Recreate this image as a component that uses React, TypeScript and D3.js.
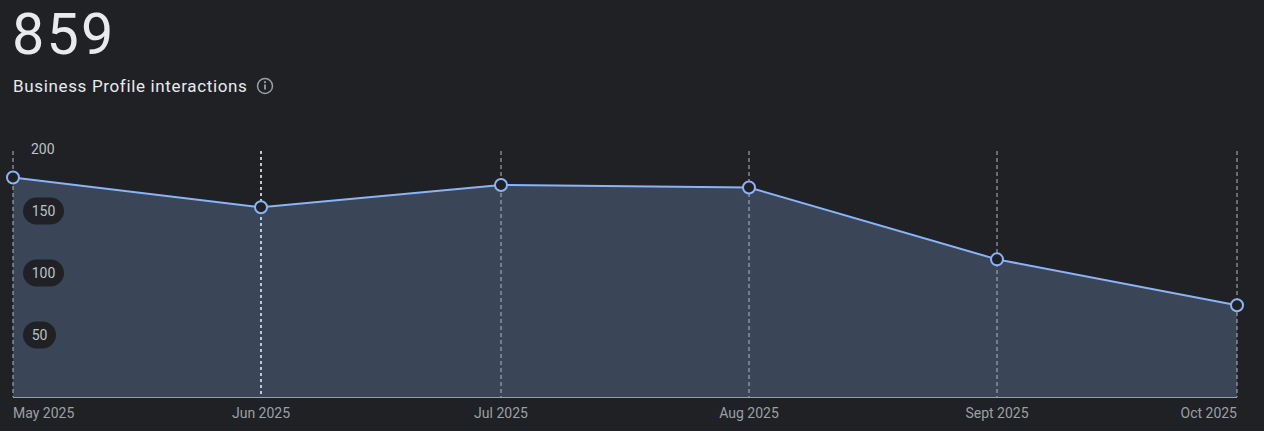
import React from "react";
import * as d3 from "d3";

const months = ["2025-05-01", "2025-06-01", "2025-07-01", "2025-08-01", "2025-09-01", "2025-10-01"];
const monthLabels = ["May 2025", "Jun 2025", "Jul 2025", "Aug 2025", "Sept 2025", "Oct 2025"];
const interactions = [177, 153, 171, 169, 111, 74];
const yTicks = [50, 100, 150, 200];
const totalLabel = "859";
const titleLabel = "Business Profile interactions";

const W = 1264;
const H = 431;
const BG = "#202124";

export default function App() {
  const parse = d3.utcParse("%Y-%m-%d");
  const dates = months.map((m) => parse(m) as Date);
  const x = d3.scaleUtc().domain([dates[0], dates[dates.length - 1]]).range([13, 1237]);
  const y = d3.scaleLinear().domain([0, 200]).range([397, 149]);
  const data = dates.map((d, i) => ({ d, v: interactions[i] }));
  const area = d3.area<{ d: Date; v: number }>().x((p) => x(p.d)).y0(y(0)).y1((p) => y(p.v));
  const line = d3.line<{ d: Date; v: number }>().x((p) => x(p.d)).y((p) => y(p.v));
  const font = "Roboto, 'Noto Sans', Arial, sans-serif";

  return (
    <svg width={W} height={H} style={{ position: "fixed", left: 0, top: 0, display: "block", background: BG }}>
      <rect x={0} y={0} width={W} height={H} fill={BG} />
      <text x={12} y={54} fill="#e8eaed" fontFamily={font} fontSize={57.5} fontWeight={400} letterSpacing={2.2}>{totalLabel}</text>
      <text x={13} y={92} fill="#e8eaed" fontFamily={font} fontSize={17} fontWeight={400} letterSpacing={0.65}>{titleLabel}</text>
      <g transform="translate(265,86)">
        <circle r={7.5} fill="none" stroke="#9aa0a6" strokeWidth={1.5} />
        <rect x={-0.9} y={-1.5} width={1.8} height={5} fill="#9aa0a6" />
        <circle cy={-3.8} r={1.1} fill="#9aa0a6" />
      </g>
      <path d={area(data) || ""} fill="#3a4557" />
      {dates.map((d, i) => (
        <line key={i} x1={x(d)} x2={x(d)} y1={151} y2={397}
          stroke={i === 1 ? "#c4c7cc" : "#b4b8be"} strokeWidth={i === 1 ? 2 : 1}
          strokeDasharray={i === 1 ? "3,3" : "4,3"} />
      ))}
      <line x1={13} x2={1237} y1={397.5} y2={397.5} stroke="#9aa0a6" strokeWidth={1} />
      <path d={line(data) || ""} fill="none" stroke="#8ab4f8" strokeWidth={2} />
      {data.map((p, i) => (
        <circle key={i} cx={x(p.d)} cy={y(p.v)} r={6} fill={BG} stroke="#8ab4f8" strokeWidth={2} />
      ))}
      {yTicks.map((t) => {
        const label = String(t);
        const w = label.length === 2 ? 33 : 41;
        return (
          <g key={t} transform={`translate(23,${y(t)})`}>
            {t !== 200 && <rect x={0} y={-13.5} width={w} height={27} rx={13.5} fill={BG} />}
            <text x={t === 200 ? 8 : w / 2} y={0} dy="0.35em" textAnchor={t === 200 ? "start" : "middle"}
              fill="#bdc1c6" fontFamily={font} fontSize={14}>{label}</text>
          </g>
        );
      })}
      {dates.map((d, i) => (
        <text key={i} x={x(d)} y={418} fill="#9aa0a6" fontFamily={font} fontSize={14}
          textAnchor={i === 0 ? "start" : i === dates.length - 1 ? "end" : "middle"}>{monthLabels[i]}</text>
      ))}
    </svg>
  );
}
